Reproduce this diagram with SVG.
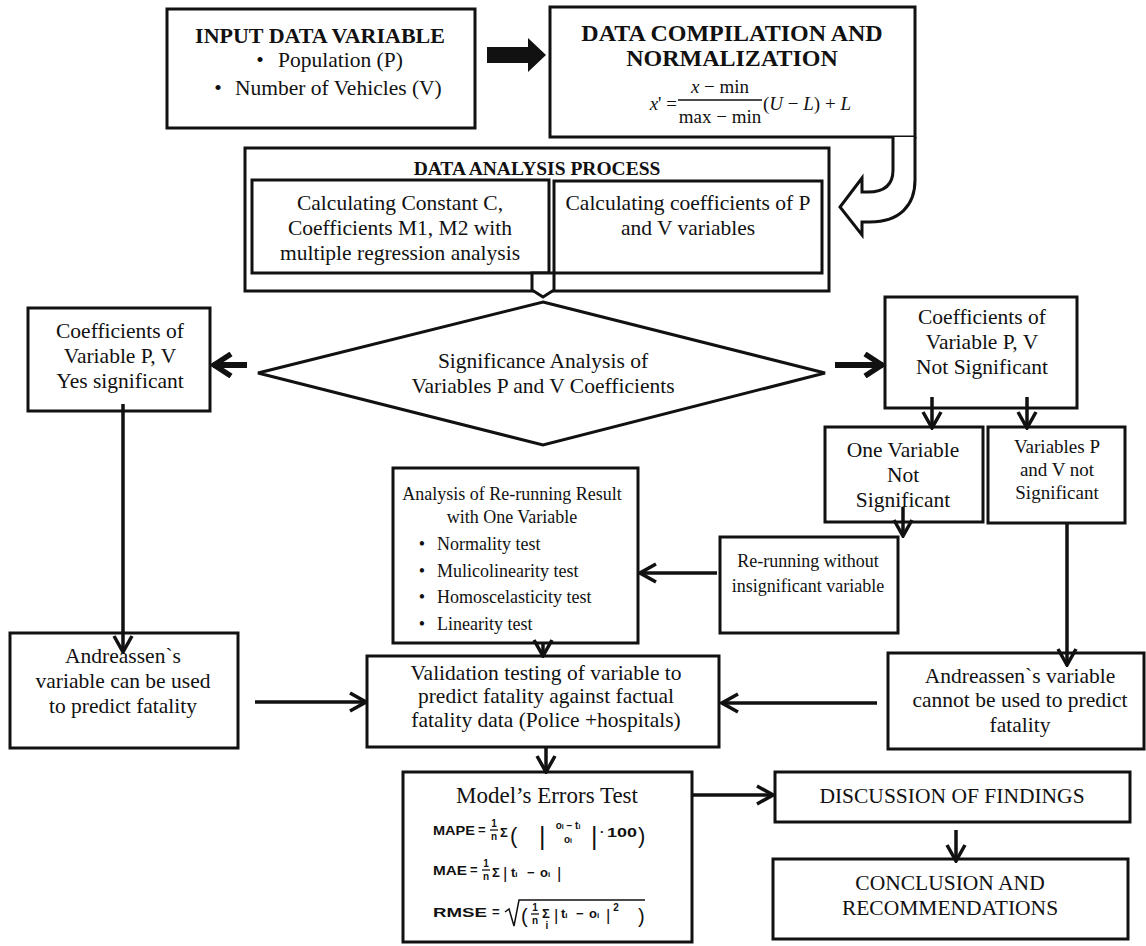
<svg xmlns="http://www.w3.org/2000/svg" width="1146" height="946" viewBox="0 0 1146 946">
<defs>
<style>
.b{fill:#fff;stroke:#111;stroke-width:3}
.t{font-family:"Liberation Serif","Times New Roman",serif;font-size:21.5px;fill:#111;text-anchor:middle}
.s{font-size:18px}
.m{font-size:19px}
.bd{font-weight:bold}
.l{text-anchor:start}
.c{fill:none;stroke:#111;stroke-width:3.5;marker-end:url(#ah)}
.cb{fill:none;stroke:#111;stroke-width:6;marker-end:url(#ahb)}
.h{fill:#fff;stroke:#111;stroke-width:3;stroke-linejoin:miter}
.f{font-family:"Liberation Sans",Arial,sans-serif;font-weight:bold;font-size:13px;fill:#111}
.fs{font-family:"Liberation Sans",Arial,sans-serif;font-weight:bold;font-size:10px;fill:#111;text-anchor:middle}
.fl{font-family:"Liberation Sans",Arial,sans-serif;font-size:22px;fill:#111}
.ln{stroke:#111;stroke-width:1.3}
.eq{font-family:"Liberation Serif","Times New Roman",serif;font-size:19px;fill:#111}
.i{font-style:italic}
</style>
<marker id="ah" viewBox="0 0 20 22" refX="18" refY="11" markerWidth="20" markerHeight="22" markerUnits="userSpaceOnUse" orient="auto"><path d="M2,2 L18,11 L2,20" fill="none" stroke="#111" stroke-width="3.5"/></marker>
<marker id="ahb" viewBox="0 0 24 26" refX="22" refY="13" markerWidth="24" markerHeight="26" markerUnits="userSpaceOnUse" orient="auto"><path d="M4,2 L21,13 L4,24" fill="none" stroke="#111" stroke-width="5.5"/></marker>
</defs>
<rect width="1146" height="946" fill="#fff"/>

<g id="input">
<rect class="b" x="167" y="9" width="308" height="119"/>
<text class="t bd" x="320" y="43" style="font-size:22px">INPUT DATA VARIABLE</text>
<text class="t" x="260" y="67">•</text>
<text class="t l" x="278" y="67">Population (P)</text>
<text class="t" x="218" y="95">•</text>
<text class="t l" x="235" y="95">Number of Vehicles (V)</text>
</g>

<g id="compilation">
<rect class="b" x="550" y="7" width="365" height="130"/>
<text class="t bd" x="732" y="41" style="font-size:24px">DATA COMPILATION AND</text>
<text class="t bd" x="732" y="66" style="font-size:24px">NORMALIZATION</text>
<text class="eq" x="677" y="110" text-anchor="end"><tspan class="i">x</tspan>' =</text>
<text class="eq" x="720" y="93" text-anchor="middle"><tspan class="i">x</tspan> − min</text>
<line x1="678" y1="100" x2="762" y2="100" stroke="#111" stroke-width="1.3"/>
<text class="eq" x="720" y="123" text-anchor="middle">max − min</text>
<text class="eq" x="763" y="110">(<tspan class="i">U</tspan> − <tspan class="i">L</tspan>) + <tspan class="i">L</tspan></text>
</g>

<g id="analysis-process">
<rect class="b" x="245" y="148" width="584" height="143"/>
<text class="t bd" x="537" y="175" style="font-size:19.5px">DATA ANALYSIS PROCESS</text>
<rect class="b" x="252" y="180" width="297" height="93"/>
<text class="t" x="400" y="210">Calculating Constant C,</text>
<text class="t" x="400" y="235">Coefficients M1, M2 with</text>
<text class="t" x="400" y="260">multiple regression analysis</text>
<rect class="b" x="554" y="181" width="268" height="92"/>
<text class="t" x="688" y="210">Calculating coefficients of P</text>
<text class="t" x="688" y="235">and V variables</text>
</g>

<g id="significance">
<polygon class="b" points="543,302 825,373 543,445 258,373"/>
<text class="t" x="543" y="368">Significance Analysis of</text>
<text class="t" x="543" y="393">Variables P and V Coefficients</text>
</g>

<g id="yes-significant">
<rect class="b" x="28" y="308" width="182" height="103"/>
<text class="t" x="120" y="338">Coefficients of</text>
<text class="t" x="120" y="363">Variable P, V</text>
<text class="t" x="120" y="388">Yes significant</text>
</g>

<g id="not-significant">
<rect class="b" x="885" y="297" width="192" height="111"/>
<text class="t" x="982" y="324">Coefficients of</text>
<text class="t" x="982" y="349">Variable P, V</text>
<text class="t" x="982" y="374">Not Significant</text>
</g>

<g id="one-variable">
<rect class="b" x="825" y="427" width="158" height="95"/>
<text class="t" x="903" y="457">One Variable</text>
<text class="t" x="903" y="482">Not</text>
<text class="t" x="903" y="507">Significant</text>
</g>

<g id="both-variables">
<rect class="b" x="988" y="427" width="137" height="96"/>
<text class="t m" x="1057" y="453">Variables P</text>
<text class="t m" x="1057" y="476">and V not</text>
<text class="t m" x="1057" y="499">Significant</text>
</g>

<g id="rerunning">
<rect class="b" x="720" y="537" width="178" height="96"/>
<text class="t s" x="808" y="567">Re-running without</text>
<text class="t s" x="808" y="592">insignificant variable</text>
</g>

<g id="analysis-rerun">
<rect class="b" x="393" y="468" width="245" height="175"/>
<text class="t s" x="512" y="500">Analysis of Re-running Result</text>
<text class="t s" x="512" y="523">with One Variable</text>
<text class="t s" x="422" y="550">•</text>
<text class="t s l" x="437" y="550">Normality test</text>
<text class="t s" x="422" y="577">•</text>
<text class="t s l" x="437" y="577">Mulicolinearity test</text>
<text class="t s" x="422" y="603">•</text>
<text class="t s l" x="437" y="603">Homoscelasticity test</text>
<text class="t s" x="422" y="630">•</text>
<text class="t s l" x="437" y="630">Linearity test</text>
</g>

<g id="andreassen-can">
<rect class="b" x="10" y="633" width="228" height="115"/>
<text class="t" x="123" y="663">Andreassen`s</text>
<text class="t" x="123" y="688">variable can be used</text>
<text class="t" x="123" y="713">to predict fatality</text>
</g>

<g id="validation">
<rect class="b" x="367" y="656" width="352" height="91"/>
<text class="t" x="546" y="680">Validation testing of variable to</text>
<text class="t" x="546" y="703">predict fatality against factual</text>
<text class="t" x="546" y="727">fatality data (Police +hospitals)</text>
</g>

<g id="andreassen-cannot">
<rect class="b" x="888" y="653" width="256" height="96"/>
<text class="t" x="1020" y="683">Andreassen`s variable</text>
<text class="t" x="1020" y="707">cannot be used to predict</text>
<text class="t" x="1020" y="732">fatality</text>
</g>

<g id="errors-test">
<rect class="b" x="403" y="772" width="289" height="170"/>
<text class="t" x="547" y="803" style="font-size:23px">Model’s Errors Test</text>
<text class="f" x="433" y="835" textLength="42" lengthAdjust="spacingAndGlyphs">MAPE</text>
<text class="f" x="478" y="834">=</text>
<text class="fs" x="494" y="827">1</text>
<line class="ln" x1="490" y1="830" x2="498" y2="830"/>
<text class="fs" x="494" y="840">n</text>
<text class="f" x="500" y="837">Σ</text>
<text class="fl" x="510" y="843">(</text>
<text class="fl" x="539" y="845" style="font-size:25px">|</text>
<text class="fs" x="568" y="829">o<tspan font-size="7">i</tspan> − t<tspan font-size="7">i</tspan></text>
<text class="fs" x="568" y="843">o<tspan font-size="7">i</tspan></text>
<text class="fl" x="591" y="845" style="font-size:25px">|</text>
<text class="f" x="600" y="836">·</text>
<text class="f" x="607" y="837" textLength="30" lengthAdjust="spacingAndGlyphs">100</text>
<text class="fl" x="638" y="843">)</text>

<text class="f" x="433" y="875" textLength="34" lengthAdjust="spacingAndGlyphs">MAE</text>
<text class="f" x="470" y="874">=</text>
<text class="fs" x="486" y="867">1</text>
<line class="ln" x1="482" y1="870" x2="490" y2="870"/>
<text class="fs" x="486" y="880">n</text>
<text class="f" x="492" y="877">Σ</text>
<text class="fl" x="503" y="879" style="font-size:17px">|</text>
<text class="f" x="511" y="877">t<tspan font-size="8">i</tspan></text>
<text class="f" x="527" y="877">−</text>
<text class="f" x="540" y="877">o<tspan font-size="8">i</tspan></text>
<text class="fl" x="557" y="879" style="font-size:17px">|</text>

<text class="f" x="433" y="917" textLength="54" lengthAdjust="spacingAndGlyphs">RMSE</text>
<text class="f" x="492" y="916">=</text>
<path d="M505,912 L509,909 L514,926 L519,900 L645,900" fill="none" stroke="#111" stroke-width="1.5"/>
<text class="fl" x="521" y="923" style="font-size:20px">(</text>
<text class="fs" x="535" y="911">1</text>
<line class="ln" x1="531" y1="914" x2="539" y2="914"/>
<text class="fs" x="535" y="924">n</text>
<text class="f" x="542" y="918">Σ</text>
<text class="fs" x="547" y="929" font-size="7">i</text>
<text class="fl" x="554" y="921" style="font-size:17px">|</text>
<text class="f" x="561" y="918">t<tspan font-size="8">i</tspan></text>
<text class="f" x="576" y="918">−</text>
<text class="f" x="589" y="918">o<tspan font-size="8">i</tspan></text>
<text class="fl" x="606" y="921" style="font-size:17px">|</text>
<text class="fs" x="616" y="911">2</text>
<text class="fl" x="638" y="923" style="font-size:20px">)</text>
</g>

<g id="discussion">
<rect class="b" x="775" y="772" width="355" height="50"/>
<text class="t" x="952" y="803">DISCUSSION OF FINDINGS</text>
</g>

<g id="conclusion">
<rect class="b" x="773" y="859" width="355" height="80"/>
<text class="t" x="950" y="890">CONCLUSION AND</text>
<text class="t" x="950" y="915">RECOMMENDATIONS</text>
</g>

<g id="connectors">
<polygon points="487,47 528,47 528,38 546,55 528,72 528,63 487,63" fill="#111"/>
<path class="h" d="M893,137 L893,170 Q893,192 868,192 L862,192 L862,178 L840,207 L862,235 L862,222 L870,222 C900,222 915,205 915,180 L915,137"/>
<polygon class="h" points="532,273 554,273 554,290 543,297 532,290"/>
<path class="cb" d="M247,365 L213,365"/>
<path class="cb" d="M835,365 L883,365"/>
<path class="c" d="M123,404 L123,652"/>
<path class="c" d="M255,702 L366,702"/>
<path class="c" d="M877,703 L722,703"/>
<path class="c" d="M1067,523 L1067,665"/>
<path class="c" d="M932,397 L932,428"/>
<path class="c" d="M1027,397 L1027,428"/>
<path class="c" d="M903,507 L903,536"/>
<path class="c" d="M717,573 L640,573"/>
<path class="c" d="M543,643 L543,656"/>
<path class="c" d="M546,747 L546,772"/>
<path class="c" d="M692,795 L773,795"/>
<path class="c" d="M956,830 L956,861"/>
</g>
</svg>
